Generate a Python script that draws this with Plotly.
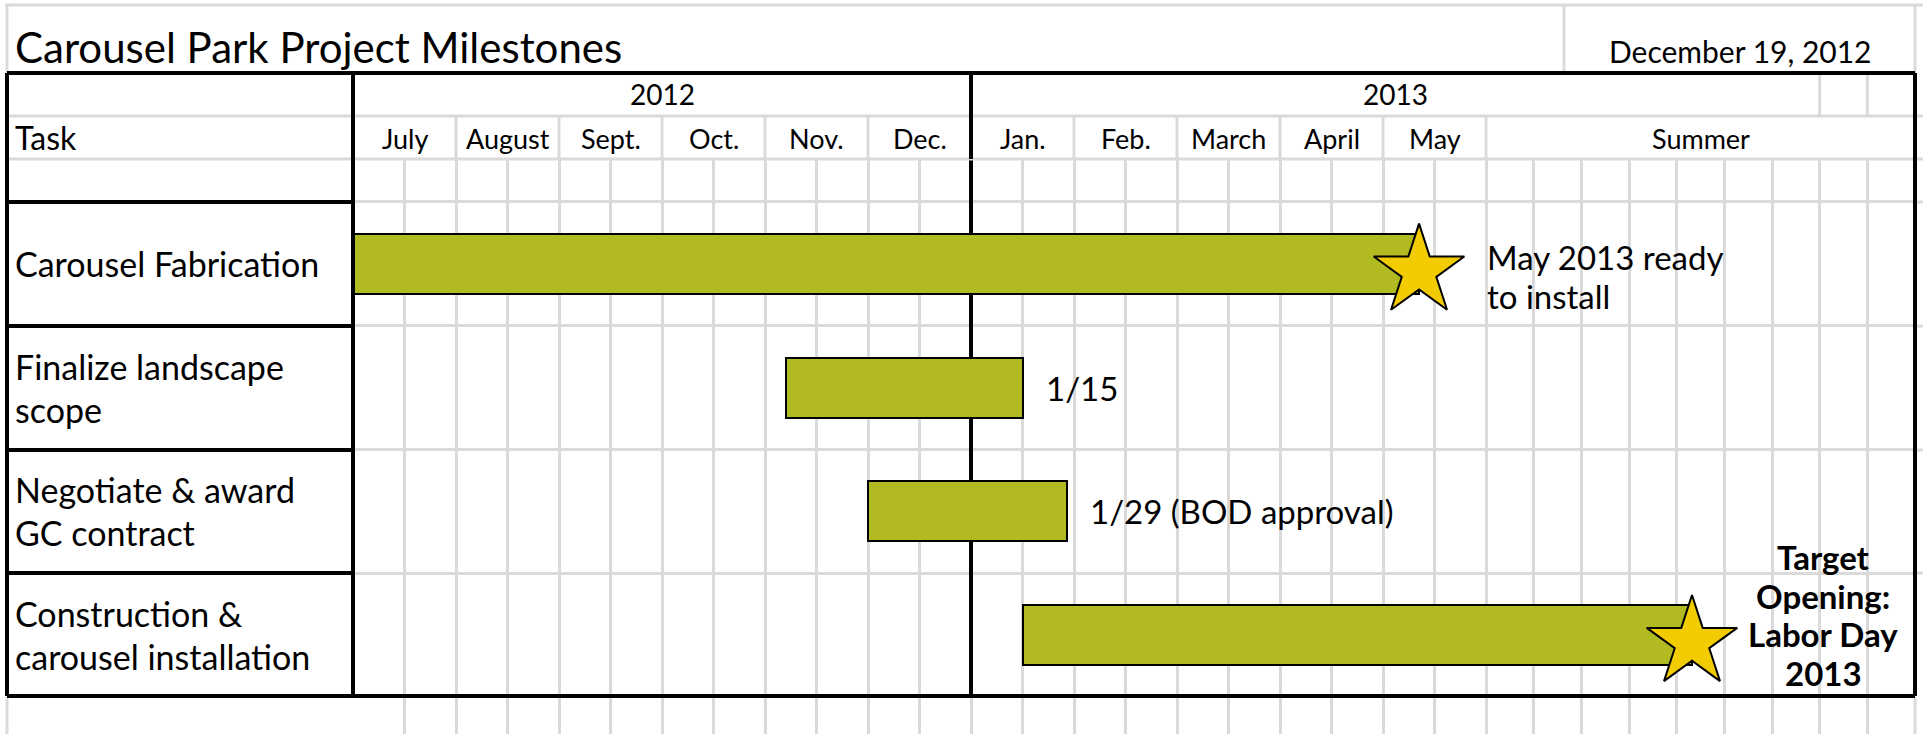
import numpy as np
import plotly.graph_objects as go

W, H = 1923, 734

# ---------------- data ----------------
title_text = "Carousel Park Project Milestones"
date_text = "December 19, 2012"
years = ["2012", "2013"]
months = ["July", "August", "Sept.", "Oct.", "Nov.", "Dec.",
          "Jan.", "Feb.", "March", "April", "May"]
summer_label = "Summer"
header_task = "Task"
tasks = [["Carousel Fabrication"],
         ["Finalize landscape", "scope"],
         ["Negotiate & award", "GC contract"],
         ["Construction &", "carousel installation"]]
# values in months since 1 July 2012
task_start = [0.0, 4.2, 5.0, 6.5]
task_end = [10.35, 6.5, 6.93, 13.0]
end_notes = [["May 2013 ready", "to install"],
             ["1/15"],
             ["1/29 (BOD approval)"],
             ["Target", "Opening:", "Labor Day", "2013"]]
milestone_rows = [0, 3]

# ---------------- styling ----------------
FONT = "Lato"
BAR = "#B1BB21"
STAR = "#F2CC00"
GRAY = "#DADADA"
PPM = 103.0                      # pixels per month
XL, XR = 353, 1915               # plot area left / right (px)
XMAX = (XR - XL) / PPM
ROW = 124.0
YTOP = -0.5 - 43 / ROW
YBOT = 3.5 + 37 / ROW
STAR_DY = 0.06                   # star sits slightly below the bar centre


def px(x):
    return x / W


def py(y):
    return 1 - y / H


half_months = list(np.arange(0, 11.01, 0.5))
summer_grid = list(np.linspace(11, XMAX, 10))
xgrid = half_months + summer_grid[1:-1]

fig = go.Figure()

durations = [e - s for s, e in zip(task_start, task_end)]
fig.add_trace(go.Bar(
    y=list(range(len(tasks))), x=durations, base=task_start,
    orientation="h", width=60 / ROW,
    marker=dict(color=BAR, line=dict(color="black", width=2)),
    showlegend=False, hoverinfo="skip"))

fig.add_trace(go.Scatter(
    x=[task_end[r] for r in milestone_rows],
    y=[r + STAR_DY for r in milestone_rows],
    mode="markers", cliponaxis=False,
    marker=dict(symbol="star", size=68, color=STAR,
                line=dict(color="black", width=2)),
    showlegend=False, hoverinfo="skip"))

shapes = []


def line(x0, y0, x1, y1, color, w, xref="paper", yref="paper", layer="above"):
    shapes.append(dict(type="line", x0=x0, y0=y0, x1=x1, y1=y1,
                       xref=xref, yref=yref, layer=layer,
                       line=dict(color=color, width=w)))


# gray structure
line(px(5), py(5), 1, py(5), GRAY, 3)
line(px(7), py(5), px(7), py(73), GRAY, 3)
line(px(7), py(697), px(7), 0, GRAY, 3)
line(px(1564), py(5), px(1564), py(73), GRAY, 3)
line(px(XR), py(5), px(XR), py(73), GRAY, 3)
line(px(XR), py(697), px(XR), 0, GRAY, 3)
for yy in (116, 159):
    line(px(7), py(yy), 1, py(yy), GRAY, 3)
for yy in (202, 326, 450, 573):
    line(px(XR), py(yy), 1, py(yy), GRAY, 3)
for m in range(1, 12):
    if m != 6:
        line(m, py(116), m, py(159), GRAY, 3, xref="x")
for xs in summer_grid[7:9]:
    line(xs, py(73), xs, py(116), GRAY, 3, xref="x")

# 2012 / 2013 divider
line(6, YTOP, 6, 3.5, "black", 4, xref="x", yref="y", layer="between")
line(6, py(73), 6, py(159), "black", 4, xref="x")

# black frame
for yy in (202, 326, 450, 573):
    line(px(7), py(yy), px(XL), py(yy), "black", 4)
line(px(7), py(73), px(XR), py(73), "black", 4)
line(px(7), py(696), px(XR), py(696), "black", 4)
line(px(7), py(73), px(7), py(696), "black", 4)
line(px(XL), py(73), px(XL), py(696), "black", 4)
line(px(XR), py(73), px(XR), py(696), "black", 4)

ann = []


def text(x, y, t, size, xref="paper", yref="paper", xanchor="center",
         align="center", xshift=0, yshift=0, bold=False):
    ann.append(dict(x=x, y=y, text=f"<b>{t}</b>" if bold else t,
                    xref=xref, yref=yref, showarrow=False,
                    xanchor=xanchor, yanchor="middle", align=align,
                    xshift=xshift, yshift=yshift,
                    font=dict(family=FONT, size=size, color="black")))


def block(x, y, lines_, size, spacing, xref="paper", yref="y",
          xanchor="left", xshift=0, down=0, bold=False):
    n = len(lines_)
    for i, t in enumerate(lines_):
        off = down + (i - (n - 1) / 2) * spacing
        text(x, y, t, size, xref=xref, yref=yref, xanchor=xanchor,
             align=xanchor if xanchor != "center" else "center",
             xshift=xshift, yshift=-off, bold=bold)


text(px(13), py(47), title_text, 42, xanchor="left", align="left")
text(px(1740), py(51), date_text, 30)
text(3, py(94), years[0], 28, xref="x")
text((6 + summer_grid[7]) / 2, py(94), years[1], 28, xref="x")
text(px(13), py(137), header_task, 32, xanchor="left", align="left")
for i, mname in enumerate(months):
    text(i + 0.5, py(138), mname, 27, xref="x")
text((11 + XMAX) / 2, py(138), summer_label, 27, xref="x")

for i, t in enumerate(tasks):
    block(px(13), i, t, 34, 43)

block(task_end[0], 0, end_notes[0], 33, 39, xref="x", xshift=66, down=13)
block(task_end[1], 1, end_notes[1], 33, 39, xref="x", xshift=21)
block(task_end[2], 2, end_notes[2], 33, 39, xref="x", xshift=21)
block(task_end[3], 3, end_notes[3], 33, 38.5, xref="x", xanchor="center",
      xshift=131, down=-20, bold=True)

fig.update_layout(
    width=W, height=H,
    margin=dict(l=0, r=0, t=0, b=0),
    paper_bgcolor="white", plot_bgcolor="rgba(0,0,0,0)",
    bargap=0, showlegend=False,
    shapes=shapes, annotations=ann,
    xaxis=dict(domain=[px(XL), px(XR)], range=[0, XMAX],
               tickmode="array", tickvals=xgrid, showticklabels=False,
               showgrid=True, gridcolor=GRAY, gridwidth=3,
               zeroline=False, showline=False, ticks=""),
    yaxis=dict(domain=[0, py(159)], range=[YBOT, YTOP],
               tickmode="array", tickvals=[-0.5, 0.5, 1.5, 2.5],
               showticklabels=False, showgrid=True, gridcolor=GRAY,
               gridwidth=3, zeroline=False, showline=False, ticks=""),
)

fig.write_html("out.html", config={"displayModeBar": False},
               post_script="document.body.style.margin='0';"
                           "document.body.style.overflow='hidden';")
